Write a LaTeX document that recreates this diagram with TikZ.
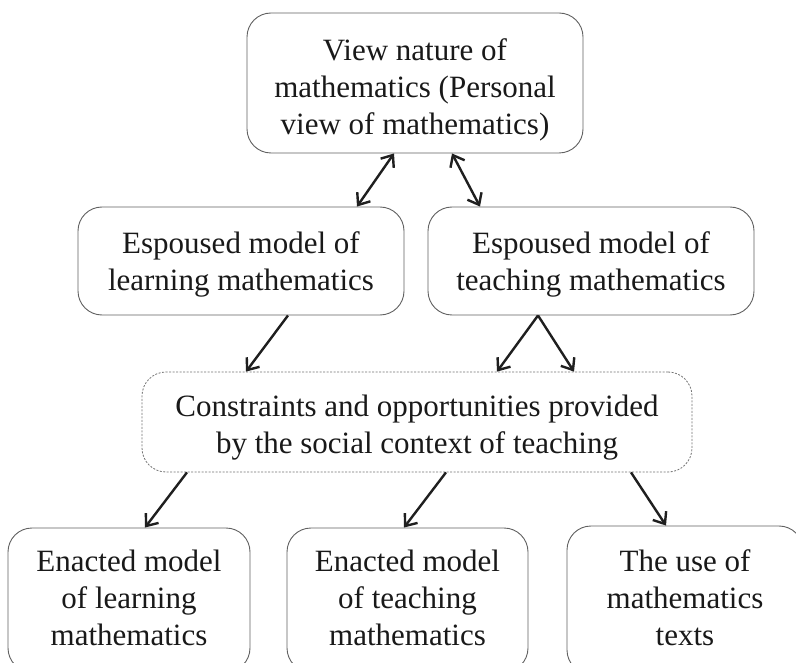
\documentclass[tikz,border=0pt]{standalone}
\usepackage{fontspec}
\setmainfont{Liberation Serif}
\usetikzlibrary{arrows.meta}
\newcommand{\lowertext}[2]{\raisebox{-#1}[\height][\depth]{\begin{tabular}{@{}c@{}}#2\end{tabular}}}
\begin{document}
\begin{tikzpicture}[x=1pt,y=-1pt,
  box/.style={draw=black!62, line width=0.9pt, rounded corners=24pt, align=center,
    font=\fontsize{31}{37}\selectfont, inner sep=0pt, text=black!90},
  ctxbox/.style={box, draw=black!55, dash pattern=on 2pt off 1.5pt, line width=0.8pt},
  conn/.style={line width=2.4pt, draw=black!88, -{Straight Barb[length=10pt,width=16pt]}},
  dconn/.style={conn, {Straight Barb[length=10pt,width=16pt]}-{Straight Barb[length=10pt,width=16pt]}}]
\useasboundingbox (0,0) rectangle (796,663);
\clip (0,0) rectangle (796,663);
\fill[white] (0,0) rectangle (796,663);

\node[box, minimum width=336pt, minimum height=140pt] (top) at (415,83)
  {\lowertext{7pt}{View nature of\\mathematics (Personal\\view of mathematics)}};
\node[box, minimum width=326pt, minimum height=108pt] (learn) at (241,261)
  {\lowertext{4pt}{Espoused model of\\learning mathematics}};
\node[box, minimum width=326pt, minimum height=108pt] (teach) at (591,261)
  {\lowertext{4pt}{Espoused model of\\teaching mathematics}};
\node[ctxbox, minimum width=550pt, minimum height=100pt] (ctx) at (417,422)
  {\lowertext{6pt}{Constraints and opportunities provided\\by the social context of teaching}};
\node[box, minimum width=242pt, minimum height=144pt] (el) at (129,600)
  {\lowertext{1pt}{Enacted model\\of learning\\mathematics}};
\node[box, minimum width=241pt, minimum height=144pt] (et) at (407.5,600)
  {\lowertext{1pt}{Enacted model\\of teaching\\mathematics}};
\node[box, minimum width=236pt, minimum height=148pt] (tx) at (685,600)
  {\lowertext{1pt}{The use of\\mathematics\\texts}};

\draw[dconn] ([xshift=-21pt]top.south) -- ([xshift=116pt]learn.north);
\draw[dconn] ([xshift=37pt]top.south) -- ([xshift=-111pt]teach.north);
\draw[conn] ([xshift=47pt]learn.south) -- ([xshift=-171pt]ctx.north);
\draw[conn] ([xshift=-53pt]teach.south) -- ([xshift=80pt]ctx.north);
\draw[conn] ([xshift=-53pt]teach.south) -- ([xshift=157pt]ctx.north);
\draw[conn] ([xshift=-230pt]ctx.south) -- ([xshift=16pt]el.north);
\draw[conn] ([xshift=29pt]ctx.south) -- ([xshift=-3.5pt]et.north);
\draw[conn] ([xshift=214pt]ctx.south) -- ([xshift=-19pt]tx.north);
\end{tikzpicture}
\end{document}
